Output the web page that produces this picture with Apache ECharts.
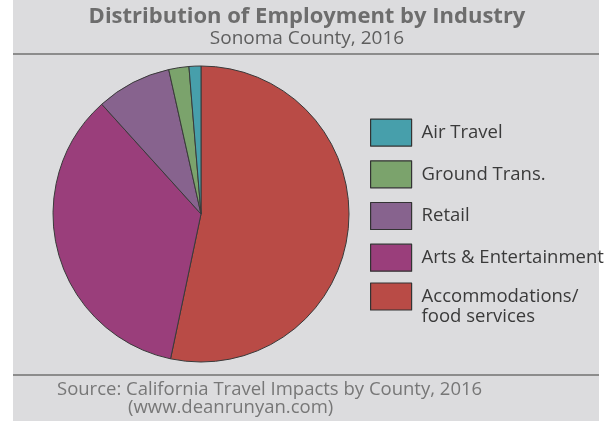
<!DOCTYPE html>
<html>
<head>
<meta charset="utf-8">
<script src="https://cdn.jsdelivr.net/npm/echarts@6/dist/echarts.min.js"></script>
<style>
  html, body { margin: 0; padding: 0; background: #ffffff; }
  #chart { width: 614px; height: 421px; }
</style>
</head>
<body>
<div id="chart"></div>
<script>
// values (percent of employment), clockwise from 12 o'clock
var categories = ["Accommodations/food services", "Arts & Entertainment", "Retail", "Ground Trans.", "Air Travel"];
var shares = [53.3, 35.0, 8.2, 2.2, 1.3];
var colors = ["#b94b46", "#9a3e7b", "#87638e", "#7ba36c", "#479fab"];
var legendTop = ["Air Travel", "Ground Trans.", "Retail", "Arts & Entertainment"];
var legendBottom = ["Accommodations/food services"];

document.addEventListener("DOMContentLoaded", function () {
  var chart = echarts.init(document.getElementById("chart"));

  var pieData = categories.map(function (name, i) {
    return { name: name, value: shares[i], itemStyle: { color: colors[i] } };
  });

  var font = "'Open Sans', sans-serif";

  // shared legend look; the two-line entry gets its own legend block
  // (a blank leading line keeps its first line level with the swatch)
  function legendBlock(names, top, fmt) {
    return {
      orient: "vertical",
      left: 370,
      top: top,
      padding: 0,
      itemWidth: 41,
      itemHeight: 27,
      itemGap: 13.5,
      icon: "rect",
      symbolKeepAspect: false,
      data: names,
      selectedMode: false,
      itemStyle: { borderColor: "#333333", borderWidth: 1.2 },
      formatter: fmt,
      textStyle: { fontFamily: font, fontSize: 18.5, color: "#3a3a3a", lineHeight: 20, padding: [0, 0, 0, 5] }
    };
  }

  var srcStyle = { fontFamily: font, fontSize: 18.5, fontWeight: "normal", color: "#777777" };

  var option = {
    animation: false,
    graphic: [
      { type: "rect", z: -10, shape: { x: 13, y: 0, width: 586, height: 421 }, style: { fill: "#dcdcde" } },
      { type: "line", shape: { x1: 13, y1: 54, x2: 599, y2: 54 }, style: { stroke: "#8c8c8c", lineWidth: 2 } },
      { type: "line", shape: { x1: 13, y1: 375, x2: 599, y2: 375 }, style: { stroke: "#8c8c8c", lineWidth: 2 } }
    ],
    title: [
      {
        text: "Distribution of Employment by Industry",
        left: "center",
        top: 1,
        textStyle: { fontFamily: font, fontSize: 22, fontWeight: "bold", color: "#6d6d6d" }
      },
      {
        text: "Sonoma County, 2016",
        left: "center",
        top: 24,
        textStyle: { fontFamily: font, fontSize: 19, fontWeight: "normal", color: "#5e5e5e" }
      },
      { text: "Source: California Travel Impacts by County, 2016", left: 52, top: 375, textStyle: srcStyle },
      { text: "(www.deanrunyan.com)", left: 123, top: 393, textStyle: srcStyle }
    ],
    legend: [
      legendBlock(legendTop, 118.5, "{name}"),
      legendBlock(legendBottom, 266.5, function (name) {
        return "\n" + name.replace("/", "/\n");
      })
    ],
    series: [
      {
        type: "pie",
        center: [201, 214],
        radius: 148,
        startAngle: 90,
        clockwise: true,
        silent: true,
        label: { show: false },
        labelLine: { show: false },
        itemStyle: { borderColor: "#3a3a3a", borderWidth: 1 },
        data: pieData
      }
    ]
  };

  chart.setOption(option);
});
</script>
</body>
</html>
